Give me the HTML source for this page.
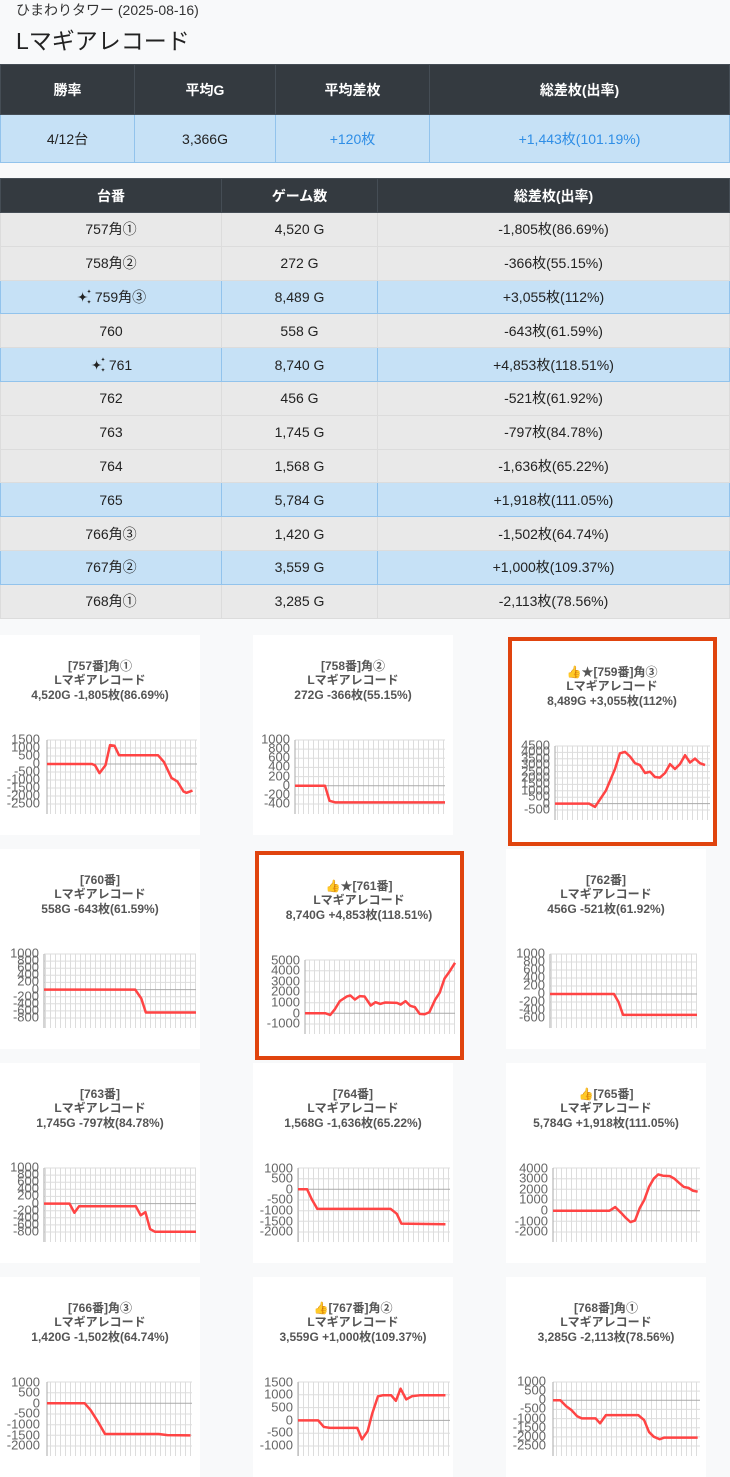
<!DOCTYPE html>
<html><head><meta charset="utf-8">
<style>
*{box-sizing:border-box;margin:0;padding:0}
body{width:730px;height:1463px;background:#f8f9fa;font-family:"Liberation Sans","Noto Sans CJK JP",sans-serif;color:#222;position:relative;overflow:hidden}
.sub{position:absolute;left:16px;top:0;font-size:14px;color:#333}
.ttl{position:absolute;left:16px;top:22px;font-size:23px;color:#222}
table{position:absolute;left:0;width:730px;border-collapse:collapse;font-size:14px;text-align:center}
th{background:#343a40;color:#fff;font-weight:bold;border:1px solid #454d55;padding:0}
td{border:1px solid #dcdcdc;padding:0;line-height:16px}
tr.g td{background:#e9e9e9}
tr.b td{background:#c6e1f6;border-color:#92c3ec}
.r td{height:33.8px}
.blue{color:#2f8ee6}
.card{position:absolute;width:200px;height:200px;background:#fff}
.hl{position:absolute;width:209px;height:209px;border:4px solid #e0440e;background:#fff}
svg text{font-family:"Liberation Sans","Noto Sans CJK JP",sans-serif}
.t{font-size:12px;font-weight:bold;fill:#555;text-anchor:middle}
.l{font-size:13px;fill:#666;text-anchor:end;dominant-baseline:middle}
.sp{vertical-align:-3px;margin-right:1px}
</style></head><body>
<div class="sub">ひまわりタワー (2025-08-16)</div>
<div class="ttl">Lマギアレコード</div>
<table style="top:64px">
<tr style="height:50px"><th style="width:134px">勝率</th><th style="width:141px">平均G</th><th style="width:154px">平均差枚</th><th>総差枚(出率)</th></tr>
<tr class="b" style="height:48px"><td>4/12台</td><td>3,366G</td><td class="blue">+120枚</td><td class="blue">+1,443枚(101.19%)</td></tr>
</table>
<table style="top:178px">
<tr style="height:34px"><th style="width:221px">台番</th><th style="width:156px">ゲーム数</th><th>総差枚(出率)</th></tr>
<tr class="g r"><td>757角①</td><td>4,520 G</td><td>-1,805枚(86.69%)</td></tr>
<tr class="g r"><td>758角②</td><td>272 G</td><td>-366枚(55.15%)</td></tr>
<tr class="b r"><td><svg class="sp" width="18" height="16" viewBox="0 0 20 20"><path d="M7 3Q7 10 14 10Q7 10 7 17Q7 10 0 10Q7 10 7 3Z" fill="#222"/><path d="M15 0Q15 3 18 3Q15 3 15 6Q15 3 12 3Q15 3 15 0Z" fill="#222"/><path d="M15 13Q15 16 18 16Q15 16 15 19Q15 16 12 16Q15 16 15 13Z" fill="#222"/></svg>759角③</td><td>8,489 G</td><td>+3,055枚(112%)</td></tr>
<tr class="g r"><td>760</td><td>558 G</td><td>-643枚(61.59%)</td></tr>
<tr class="b r"><td><svg class="sp" width="18" height="16" viewBox="0 0 20 20"><path d="M7 3Q7 10 14 10Q7 10 7 17Q7 10 0 10Q7 10 7 3Z" fill="#222"/><path d="M15 0Q15 3 18 3Q15 3 15 6Q15 3 12 3Q15 3 15 0Z" fill="#222"/><path d="M15 13Q15 16 18 16Q15 16 15 19Q15 16 12 16Q15 16 15 13Z" fill="#222"/></svg>761</td><td>8,740 G</td><td>+4,853枚(118.51%)</td></tr>
<tr class="g r"><td>762</td><td>456 G</td><td>-521枚(61.92%)</td></tr>
<tr class="g r"><td>763</td><td>1,745 G</td><td>-797枚(84.78%)</td></tr>
<tr class="g r"><td>764</td><td>1,568 G</td><td>-1,636枚(65.22%)</td></tr>
<tr class="b r"><td>765</td><td>5,784 G</td><td>+1,918枚(111.05%)</td></tr>
<tr class="g r"><td>766角③</td><td>1,420 G</td><td>-1,502枚(64.74%)</td></tr>
<tr class="b r"><td>767角②</td><td>3,559 G</td><td>+1,000枚(109.37%)</td></tr>
<tr class="g r"><td>768角①</td><td>3,285 G</td><td>-2,113枚(78.56%)</td></tr>
</table>

<svg width="0" height="0" style="position:absolute"><defs><pattern id="vg" width="5" height="10" patternUnits="userSpaceOnUse"><line x1="0.5" y1="0" x2="0.5" y2="10" stroke="#ddd" stroke-width="1"/></pattern></defs></svg>

<!-- 757 -->
<div class="card" style="left:0;top:635px"><svg width="200" height="200">
<text class="t" x="100" y="35">[757番]角①</text><text class="t" x="100" y="49">Lマギアレコード</text><text class="t" x="100" y="64">4,520G -1,805枚(86.69%)</text>
<rect x="47" y="105" width="150" height="74" fill="url(#vg)"/>
<path d="M47 105H197M47 113H197M47 121H197M47 137H197M47 145H197M47 153H197M47 161H197M47 169H197" stroke="#ddd"/>
<path d="M47 129H197M47 105V179" stroke="#aaa"/>
<text class="l" x="40" y="105">1500</text><text class="l" x="40" y="113">1000</text><text class="l" x="40" y="121">500</text><text class="l" x="40" y="129">0</text><text class="l" x="40" y="137">-500</text><text class="l" x="40" y="145">-1000</text><text class="l" x="40" y="153">-1500</text><text class="l" x="40" y="161">-2000</text><text class="l" x="40" y="169">-2500</text>
<polyline transform="translate(47,129) scale(0.15,-0.016)" vector-effect="non-scaling-stroke" fill="none" stroke="#ff4444" stroke-width="2.5" stroke-linejoin="round" points="0,0 300,0 320,-79 350,-570 390,-79 420,1180 450,1140 480,550 740,550 780,118 830,-870 870,-1100 910,-1720 930,-1800 970,-1660"/>
</svg></div>

<!-- 758 -->
<div class="card" style="left:253px;top:635px"><svg width="200" height="200">
<text class="t" x="100" y="35">[758番]角②</text><text class="t" x="100" y="49">Lマギアレコード</text><text class="t" x="100" y="64">272G -366枚(55.15%)</text>
<rect x="42" y="105" width="150" height="74" fill="url(#vg)"/>
<path d="M42 105H192M42 114.1H192M42 123.3H192M42 132.4H192M42 141.6H192M42 159.9H192M42 169H192" stroke="#ddd"/>
<path d="M42 150.7H192M42 105V179" stroke="#aaa"/>
<text class="l" x="37" y="105">1000</text><text class="l" x="37" y="114">800</text><text class="l" x="37" y="123">600</text><text class="l" x="37" y="132">400</text><text class="l" x="37" y="142">200</text><text class="l" x="37" y="151">0</text><text class="l" x="37" y="160">-200</text><text class="l" x="37" y="169">-400</text>
<polyline transform="translate(42,150.7) scale(0.15,-0.045714)" vector-effect="non-scaling-stroke" fill="none" stroke="#ff4444" stroke-width="2.5" stroke-linejoin="round" points="0,0 200,0 230,-330 270,-366 1000,-366"/>
</svg></div>

<!-- 759 -->
<div class="hl" style="left:508px;top:637px"><svg width="201" height="201">
<text class="t" x="100" y="35">👍★[759番]角③</text><text class="t" x="100" y="49">Lマギアレコード</text><text class="t" x="100" y="64">8,489G +3,055枚(112%)</text>
<rect x="43" y="105" width="155" height="74" fill="url(#vg)"/>
<path d="M43 105H198M43 111.4H198M43 117.8H198M43 124.2H198M43 130.6H198M43 137H198M43 143.4H198M43 149.8H198M43 156.2H198M43 169H198" stroke="#ddd"/>
<path d="M43 162.6H198M43 105V179" stroke="#aaa"/>
<text class="l" x="38" y="105">4500</text><text class="l" x="38" y="111">4000</text><text class="l" x="38" y="118">3500</text><text class="l" x="38" y="124">3000</text><text class="l" x="38" y="131">2500</text><text class="l" x="38" y="137">2000</text><text class="l" x="38" y="143">1500</text><text class="l" x="38" y="150">1000</text><text class="l" x="38" y="156">500</text><text class="l" x="38" y="163">0</text><text class="l" x="38" y="169">-500</text>
<polyline transform="translate(43,162.6) scale(0.155,-0.0128)" vector-effect="non-scaling-stroke" fill="none" stroke="#ff4444" stroke-width="2.5" stroke-linejoin="round" points="0,0 220,0 258,-257 329,1030 387,2700 419,3930 452,4040 484,3680 516,3160 548,3010 581,2390 613,2490 645,2080 677,2030 710,2390 742,3085 774,2700 806,3085 839,3780 871,3210 903,3520 935,3160 968,3010"/>
</svg></div>

<!-- 760 -->
<div class="card" style="left:0;top:849px"><svg width="200" height="200">
<text class="t" x="100" y="35">[760番]</text><text class="t" x="100" y="49">Lマギアレコード</text><text class="t" x="100" y="64">558G -643枚(61.59%)</text>
<rect x="44" y="105" width="152" height="74" fill="url(#vg)"/>
<path d="M44 105H196M44 112.1H196M44 119.2H196M44 126.3H196M44 133.4H196M44 147.7H196M44 154.8H196M44 161.9H196M44 169H196" stroke="#ddd"/>
<path d="M44 140.6H196M44 105V179" stroke="#aaa"/>
<text class="l" x="39" y="105">1000</text><text class="l" x="39" y="112">800</text><text class="l" x="39" y="119">600</text><text class="l" x="39" y="126">400</text><text class="l" x="39" y="133">200</text><text class="l" x="39" y="141">0</text><text class="l" x="39" y="148">-200</text><text class="l" x="39" y="155">-400</text><text class="l" x="39" y="162">-600</text><text class="l" x="39" y="169">-800</text>
<polyline transform="translate(44,140.6) scale(0.152,-0.035556)" vector-effect="non-scaling-stroke" fill="none" stroke="#ff4444" stroke-width="2.5" stroke-linejoin="round" points="0,0 600,0 640,-250 670,-643 1000,-643"/>
</svg></div>

<!-- 761 -->
<div class="hl" style="left:255px;top:851px"><svg width="201" height="201">
<text class="t" x="100" y="35">👍★[761番]</text><text class="t" x="100" y="49">Lマギアレコード</text><text class="t" x="100" y="64">8,740G +4,853枚(118.51%)</text>
<rect x="46" y="105" width="150" height="74" fill="url(#vg)"/>
<path d="M46 105H196M46 115.7H196M46 126.3H196M46 137H196M46 147.7H196M46 169H196" stroke="#ddd"/>
<path d="M46 158.3H196M46 105V179" stroke="#aaa"/>
<text class="l" x="41" y="106">5000</text><text class="l" x="41" y="116">4000</text><text class="l" x="41" y="127">3000</text><text class="l" x="41" y="137">2000</text><text class="l" x="41" y="148">1000</text><text class="l" x="41" y="159">0</text><text class="l" x="41" y="169">-1000</text>
<polyline transform="translate(46,158.3) scale(0.15,-0.010667)" vector-effect="non-scaling-stroke" fill="none" stroke="#ff4444" stroke-width="2.5" stroke-linejoin="round" points="0,0 137,0 168,-160 200,400 232,1140 279,1580 302,1670 333,1290 365,1610 397,1580 438,730 470,1040 502,880 533,1010 613,980 638,820 670,1140 702,700 733,570 765,-60 797,-90 829,100 867,1260 898,1930 930,3250 962,3880 1000,4730"/>
</svg></div>

<!-- 762 -->
<div class="card" style="left:506px;top:849px"><svg width="200" height="200">
<text class="t" x="100" y="35">[762番]</text><text class="t" x="100" y="49">Lマギアレコード</text><text class="t" x="100" y="64">456G -521枚(61.92%)</text>
<rect x="44" y="105" width="147" height="74" fill="url(#vg)"/>
<path d="M44 105H191M44 113H191M44 121H191M44 129H191M44 137H191M44 153H191M44 161H191M44 169H191" stroke="#ddd"/>
<path d="M44 145H191M44 105V179" stroke="#aaa"/>
<text class="l" x="39" y="105">1000</text><text class="l" x="39" y="113">800</text><text class="l" x="39" y="121">600</text><text class="l" x="39" y="129">400</text><text class="l" x="39" y="137">200</text><text class="l" x="39" y="145">0</text><text class="l" x="39" y="153">-200</text><text class="l" x="39" y="161">-400</text><text class="l" x="39" y="169">-600</text>
<polyline transform="translate(44,145) scale(0.147,-0.04)" vector-effect="non-scaling-stroke" fill="none" stroke="#ff4444" stroke-width="2.5" stroke-linejoin="round" points="0,0 435,0 466,-200 497,-521 1000,-521"/>
</svg></div>

<!-- 763 -->
<div class="card" style="left:0;top:1063px"><svg width="200" height="200">
<text class="t" x="100" y="35">[763番]</text><text class="t" x="100" y="49">Lマギアレコード</text><text class="t" x="100" y="64">1,745G -797枚(84.78%)</text>
<rect x="44" y="105" width="152" height="74" fill="url(#vg)"/>
<path d="M44 105H196M44 112.1H196M44 119.2H196M44 126.3H196M44 133.4H196M44 147.7H196M44 154.8H196M44 161.9H196M44 169H196" stroke="#ddd"/>
<path d="M44 140.6H196M44 105V179" stroke="#aaa"/>
<text class="l" x="39" y="105">1000</text><text class="l" x="39" y="112">800</text><text class="l" x="39" y="119">600</text><text class="l" x="39" y="126">400</text><text class="l" x="39" y="133">200</text><text class="l" x="39" y="141">0</text><text class="l" x="39" y="148">-200</text><text class="l" x="39" y="155">-400</text><text class="l" x="39" y="162">-600</text><text class="l" x="39" y="169">-800</text>
<polyline transform="translate(44,140.6) scale(0.152,-0.035556)" vector-effect="non-scaling-stroke" fill="none" stroke="#ff4444" stroke-width="2.5" stroke-linejoin="round" points="0,0 168,0 200,-257 231,-73 604,-73 636,-330 667,-239 698,-716 729,-790 1000,-790"/>
</svg></div>

<!-- 764 -->
<div class="card" style="left:253px;top:1063px"><svg width="200" height="200">
<text class="t" x="100" y="35">[764番]</text><text class="t" x="100" y="49">Lマギアレコード</text><text class="t" x="100" y="64">1,568G -1,636枚(65.22%)</text>
<rect x="45" y="105" width="152" height="74" fill="url(#vg)"/>
<path d="M45 105H197M45 115.7H197M45 137H197M45 147.7H197M45 158.3H197M45 169H197" stroke="#ddd"/>
<path d="M45 126.3H197M45 105V179" stroke="#aaa"/>
<text class="l" x="40" y="106">1000</text><text class="l" x="40" y="116">500</text><text class="l" x="40" y="127">0</text><text class="l" x="40" y="137">-500</text><text class="l" x="40" y="148">-1000</text><text class="l" x="40" y="159">-1500</text><text class="l" x="40" y="169">-2000</text>
<polyline transform="translate(45,126.3) scale(0.152,-0.021333)" vector-effect="non-scaling-stroke" fill="none" stroke="#ff4444" stroke-width="2.5" stroke-linejoin="round" points="0,0 60,0 90,-460 127,-920 610,-920 650,-1150 680,-1610 970,-1636"/>
</svg></div>

<!-- 765 -->
<div class="card" style="left:506px;top:1063px"><svg width="200" height="200">
<text class="t" x="100" y="35">👍[765番]</text><text class="t" x="100" y="49">Lマギアレコード</text><text class="t" x="100" y="64">5,784G +1,918枚(111.05%)</text>
<rect x="47" y="105" width="147" height="74" fill="url(#vg)"/>
<path d="M47 105H194M47 115.7H194M47 126.3H194M47 137H194M47 158.3H194M47 169H194" stroke="#ddd"/>
<path d="M47 147.7H194M47 105V179" stroke="#aaa"/>
<text class="l" x="42" y="106">4000</text><text class="l" x="42" y="116">3000</text><text class="l" x="42" y="127">2000</text><text class="l" x="42" y="137">1000</text><text class="l" x="42" y="148">0</text><text class="l" x="42" y="159">-1000</text><text class="l" x="42" y="169">-2000</text>
<polyline transform="translate(47,147.7) scale(0.147,-0.010667)" vector-effect="non-scaling-stroke" fill="none" stroke="#ff4444" stroke-width="2.5" stroke-linejoin="round" points="0,0 385,0 423,340 464,-210 495,-670 527,-1070 558,-920 590,245 621,1010 653,2230 685,3000 716,3400 748,3280 795,3240 826,3000 858,2600 890,2230 921,2140 953,1870 984,1780"/>
</svg></div>

<!-- 766 -->
<div class="card" style="left:0;top:1277px"><svg width="200" height="186">
<text class="t" x="100" y="35">[766番]角③</text><text class="t" x="100" y="49">Lマギアレコード</text><text class="t" x="100" y="64">1,420G -1,502枚(64.74%)</text>
<rect x="47" y="105" width="145" height="74" fill="url(#vg)"/>
<path d="M47 105H192M47 115.7H192M47 137H192M47 147.7H192M47 158.3H192M47 169H192" stroke="#ddd"/>
<path d="M47 126.3H192M47 105V179" stroke="#aaa"/>
<text class="l" x="40" y="106">1000</text><text class="l" x="40" y="116">500</text><text class="l" x="40" y="127">0</text><text class="l" x="40" y="137">-500</text><text class="l" x="40" y="148">-1000</text><text class="l" x="40" y="159">-1500</text><text class="l" x="40" y="169">-2000</text>
<polyline transform="translate(47,126.3) scale(0.145,-0.021333)" vector-effect="non-scaling-stroke" fill="none" stroke="#ff4444" stroke-width="2.5" stroke-linejoin="round" points="0,0 260,0 300,-310 350,-850 400,-1440 770,-1440 830,-1490 990,-1502"/>
</svg></div>

<!-- 767 -->
<div class="card" style="left:253px;top:1277px"><svg width="200" height="186">
<text class="t" x="100" y="35">👍[767番]角②</text><text class="t" x="100" y="49">Lマギアレコード</text><text class="t" x="100" y="64">3,559G +1,000枚(109.37%)</text>
<rect x="45" y="105" width="152" height="74" fill="url(#vg)"/>
<path d="M45 105H197M45 117.8H197M45 130.6H197M45 156.2H197M45 169H197" stroke="#ddd"/>
<path d="M45 143.4H197M45 105V179" stroke="#aaa"/>
<text class="l" x="40" y="106">1500</text><text class="l" x="40" y="118">1000</text><text class="l" x="40" y="131">500</text><text class="l" x="40" y="144">0</text><text class="l" x="40" y="156">-500</text><text class="l" x="40" y="169">-1000</text>
<polyline transform="translate(45,143.4) scale(0.152,-0.0256)" vector-effect="non-scaling-stroke" fill="none" stroke="#ff4444" stroke-width="2.5" stroke-linejoin="round" points="0,0 133,0 170,-255 210,-293 390,-293 421,-740 458,-420 489,280 526,940 557,980 613,980 644,765 675,1240 712,820 752,950 800,980 970,980"/>
</svg></div>

<!-- 768 -->
<div class="card" style="left:506px;top:1277px"><svg width="200" height="186">
<text class="t" x="100" y="35">[768番]角①</text><text class="t" x="100" y="49">Lマギアレコード</text><text class="t" x="100" y="64">3,285G -2,113枚(78.56%)</text>
<rect x="47" y="105" width="147" height="74" fill="url(#vg)"/>
<path d="M47 105H194M47 114.1H194M47 132.4H194M47 141.6H194M47 150.7H194M47 159.9H194M47 169H194" stroke="#ddd"/>
<path d="M47 123.3H194M47 105V179" stroke="#aaa"/>
<text class="l" x="40" y="105">1000</text><text class="l" x="40" y="114">500</text><text class="l" x="40" y="123">0</text><text class="l" x="40" y="132">-500</text><text class="l" x="40" y="142">-1000</text><text class="l" x="40" y="151">-1500</text><text class="l" x="40" y="160">-2000</text><text class="l" x="40" y="169">-2500</text>
<polyline transform="translate(47,123.3) scale(0.147,-0.018286)" vector-effect="non-scaling-stroke" fill="none" stroke="#ff4444" stroke-width="2.5" stroke-linejoin="round" points="0,0 50,0 90,-325 126,-540 164,-870 196,-990 290,-990 320,-1260 360,-810 580,-810 620,-1080 653,-1730 685,-1990 726,-2130 757,-2040 984,-2040"/>
</svg></div>
</body></html>
